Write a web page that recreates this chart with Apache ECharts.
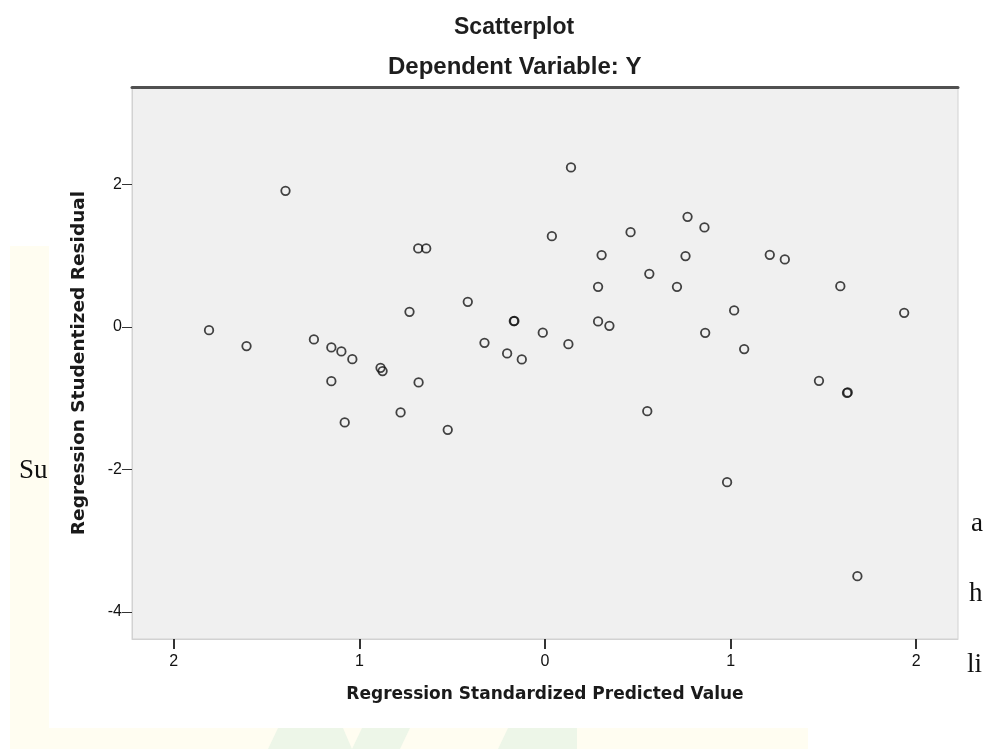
<!DOCTYPE html>
<html>
<head>
<meta charset="utf-8">
<style>
  html, body { margin: 0; padding: 0; background: #ffffff; }
  #chart { width: 988px; height: 749px; }
</style>
<script src="https://cdn.jsdelivr.net/npm/echarts@6.0.0/dist/echarts.min.js"></script>
</head>
<body>
<div id="chart"></div>
<script>
// ---- data ----
const chartTitle = 'Scatterplot';
const chartSubtitle = 'Dependent Variable: Y';
const xAxisName = 'Regression Standardized Predicted Value';
const yAxisName = 'Regression Studentized Residual';

const predictedValues = [
  -1.810, -1.608, -1.398, -1.245, -1.151, -1.097, -1.038, -1.151, -1.079, -0.886,
  -0.875, -0.778, -0.730, -0.681, -0.683, -0.640, -0.524, -0.416, -0.326, -0.204,
  -0.168, -0.165, -0.125, -0.012, 0.037, 0.126, 0.140, 0.286, 0.286, 0.305,
  0.347, 0.461, 0.551, 0.562, 0.711, 0.757, 0.768, 0.859, 0.863, 0.981,
  1.019, 1.073, 1.211, 1.292, 1.476, 1.591, 1.631, 1.627, 1.683, 1.935
];
const residualValues = [
  -0.044, -0.268, 1.912, -0.174, -0.286, -0.343, -0.451, -0.760, -1.340, -0.573,
  -0.619, -1.199, 0.213, -0.778, 1.104, 1.104, -1.443, 0.354, -0.222, -0.371,
  0.083, 0.085, -0.455, -0.079, 1.276, -0.240, 2.241, 0.564, 0.079, 1.010,
  0.017, 1.332, -1.181, 0.747, 0.564, 0.996, 1.547, 1.398, -0.081, -2.178,
  0.233, -0.310, 1.014, 0.949, -0.755, 0.574, -0.918, -0.925, -3.498, 0.199
];

const xTickValues = [-2, -1, 0, 1, 2];
const xTickLabels = ['2', '1', '0', '1', '2'];   // as printed in the reference
const yTickValues = [-4, -2, 0, 2];
const yTickLabels = ['-4', '-2', '0', '2'];

const xRange = [-2.225, 2.225];
const yRange = [-4.38, 3.37];

// ---- build ----
const points = predictedValues.map((x, i) => [x, residualValues[i]]);

function labelFor(values, labels) {
  return function (v) {
    for (let i = 0; i < values.length; i++) {
      if (Math.abs(values[i] - v) < 1e-9) return labels[i];
    }
    return '';
  };
}

const chart = echarts.init(document.getElementById('chart'), null, { renderer: 'canvas' });

const option = {
  backgroundColor: '#ffffff',
  animation: false,
  title: [
    {
      text: chartTitle,
      left: 449, top: 11,
      textStyle: { fontFamily: 'Liberation Sans', fontSize: 23, fontWeight: 'bold', color: '#1e1e1e' }
    },
    {
      text: chartSubtitle,
      left: 383, top: 50,
      textStyle: { fontFamily: 'Liberation Sans', fontSize: 24, fontWeight: 'bold', color: '#1e1e1e' }
    }
  ],
  grid: {
    left: 132, top: 87, right: 30, bottom: 110,
    show: true,
    backgroundColor: '#f0f0f0',
    borderColor: '#d2d2d2',
    borderWidth: 1,
    containLabel: false
  },
  xAxis: [
    {
      type: 'value',
      position: 'bottom',
      min: xRange[0], max: xRange[1],
      axisLine: { show: true, onZero: false, lineStyle: { color: '#d2d2d2', width: 1 } },
      axisTick: { show: true, customValues: xTickValues, length: 10, inside: false,
                  lineStyle: { color: '#333333', width: 2 } },
      axisLabel: { show: true, customValues: xTickValues, margin: 15,
                   formatter: labelFor(xTickValues, xTickLabels),
                   fontFamily: 'Liberation Sans', fontSize: 16, color: '#111111' },
      splitLine: { show: false },
      name: xAxisName,
      nameLocation: 'middle',
      nameGap: 47,
      nameTextStyle: { fontFamily: 'DejaVu Sans', fontSize: 17, fontWeight: 'bold', color: '#1a1a1a' }
    },
    {
      type: 'value',
      position: 'top',
      min: xRange[0], max: xRange[1],
      axisLine: { show: true, onZero: false, lineStyle: { color: '#505050', width: 3 } },
      axisTick: { show: false },
      axisLabel: { show: false },
      splitLine: { show: false }
    }
  ],
  yAxis: {
    type: 'value',
    min: yRange[0], max: yRange[1],
    axisLine: { show: true, onZero: false, lineStyle: { color: '#d2d2d2', width: 1 } },
    axisTick: { show: true, customValues: yTickValues, length: 10, inside: false,
                lineStyle: { color: '#333333', width: 1 } },
    axisLabel: { show: true, customValues: yTickValues, margin: 10,
                 formatter: labelFor(yTickValues, yTickLabels),
                 fontFamily: 'Liberation Sans', fontSize: 16, color: '#111111' },
    splitLine: { show: false },
    name: yAxisName,
    nameLocation: 'middle',
    nameGap: 43,
    nameRotate: 90,
    nameTextStyle: { fontFamily: 'DejaVu Sans', fontSize: 18.5, fontWeight: 'bold', color: '#1a1a1a' }
  },
  series: [
    {
      type: 'scatter',
      xAxisIndex: 0,
      yAxisIndex: 0,
      data: points,
      symbol: 'circle',
      symbolSize: 8.5,
      itemStyle: { color: 'rgba(0,0,0,0)', borderColor: '#151515', borderWidth: 1.8 },
      emphasis: { disabled: true },
      silent: true
    }
  ],
  graphic: [
    // page remnants around the pasted chart
    { type: 'rect', z: -10, silent: true, shape: { x: 10, y: 246, width: 39, height: 482 }, style: { fill: '#fffdf1' } },
    { type: 'rect', z: -10, silent: true, shape: { x: 10, y: 728, width: 798, height: 21 }, style: { fill: '#fffdf1' } },
    { type: 'polygon', z: -9, silent: true, shape: { points: [[268, 749], [278, 728], [343, 728], [352, 749]] }, style: { fill: '#edf6e8' } },
    { type: 'polygon', z: -9, silent: true, shape: { points: [[352, 749], [362, 728], [410, 728], [400, 749]] }, style: { fill: '#edf6e8' } },
    { type: 'polygon', z: -9, silent: true, shape: { points: [[498, 749], [508, 728], [577, 728], [577, 749]] }, style: { fill: '#edf6e8' } },
    { type: 'text', silent: true, left: 19, top: 457, style: { text: 'Su', font: '27px "Liberation Serif"', fill: '#111' } },
    { type: 'text', silent: true, left: 971, top: 510, style: { text: 'a', font: '27px "Liberation Serif"', fill: '#111' } },
    { type: 'text', silent: true, left: 969, top: 580, style: { text: 'h', font: '27px "Liberation Serif"', fill: '#111' } },
    { type: 'text', silent: true, left: 967, top: 651, style: { text: 'li', font: '27px "Liberation Serif"', fill: '#111' } }
  ]
};

chart.setOption(option);
</script>
</body>
</html>
